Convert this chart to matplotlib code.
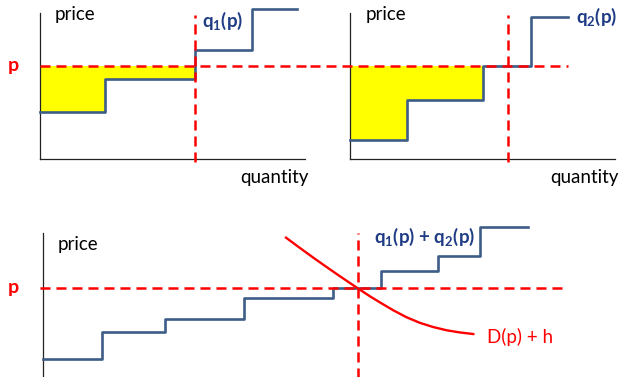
import matplotlib.pyplot as plt

plt.rcParams['font.family'] = ['Lato', 'DejaVu Sans']

# step supply curves (quantity, price)
q1_x = [0, 4.2, 10.0, 13.7, 16.6]
q1_y = [5.05, 8.6, 11.7, 16.1]
q2_x = [0, 3.7, 8.6, 11.7, 14.05]
q2_y = [2.05, 6.35, 10.0, 15.3]
qs_x = [0, 3.8, 7.9, 13.0, 18.7, 21.8, 25.5, 28.2, 31.3]
qs_y = [2.4, 5.3, 6.7, 8.9, 10.0, 11.8, 13.4, 16.6]

# demand curve D(p) + h
d_x = [15.68, 16.58, 17.44, 18.30, 19.16, 20.28, 21.10, 21.74, 22.60,
       23.46, 24.32, 25.18, 26.05, 26.90, 27.76]
d_y = [15.41, 14.30, 13.26, 12.25, 11.26, 10.0, 9.1, 8.45, 7.6,
       6.85, 6.25, 5.8, 5.45, 5.22, 5.05]

p_star = 10.0
q_star_1 = 10.0
q_star_2 = 10.2
q_star_3 = 20.3

W, H = 621, 377
PX_X, PX_Y = 15.5, 9.3   # pixels per unit
STEP_C = '#3D5C88'
TEXT_BLUE = '#1F3C85'
RED = '#FF0000'
DASH = (0, (4, 2.4))
FS = 13.5

fig = plt.figure(figsize=(W / 100, H / 100), dpi=100)


def panel(x0, y0, w, h):
    # x0, y0: pixel position of the origin (y from top)
    ax = fig.add_axes([x0 / W, (H - y0) / H, w / W, h / H])
    ax.set_xlim(0, w / PX_X)
    ax.set_ylim(0, h / PX_Y)
    ax.set_facecolor('none')
    ax.set_xticks([])
    ax.set_yticks([])
    for s in ['top', 'right']:
        ax.spines[s].set_visible(False)
    for s in ['left', 'bottom']:
        ax.spines[s].set_linewidth(0.9)
        ax.spines[s].set_color('#222222')
    return ax


def steps(xs, ys):
    px, py = [], []
    for i, y in enumerate(ys):
        px += [xs[i], xs[i + 1]]
        py += [y, y]
    return px, py


# ---- panel 1: q1(p)
ax1 = panel(40, 159, 265, 159)
ax1.spines['left'].set_bounds(0, 15.7)
sx, sy = steps(q1_x, q1_y)
ax1.fill_between(sx, sy, p_star, where=[x <= q_star_1 for x in sx],
                 color='#FFFF00', lw=0)
ax1.plot(sx, sy, color=STEP_C, lw=1.9, clip_on=False, zorder=3)
ax1.plot([0, 17.4], [p_star, p_star], color=RED, lw=1.8, ls=DASH,
         clip_on=False, zorder=4)
ax1.plot([q_star_1, q_star_1], [-0.3, 15.5], color=RED, lw=1.8, ls=DASH,
         clip_on=False, zorder=4)
ax1.text(2.26, 15.5, 'price', ha='center', va='center', fontsize=FS)
ax1.text(15.1, -1.94, 'quantity', ha='center', va='center', fontsize=FS)
ax1.text(11.8, 14.9, r'q$_\mathregular{1}$(p)', ha='center', va='center',
         fontsize=FS, color=TEXT_BLUE, fontweight='bold')

# ---- panel 2: q2(p)
ax2 = panel(350, 159, 265, 159)
ax2.spines['left'].set_bounds(0, 15.7)
sx, sy = steps(q2_x, q2_y)
ax2.fill_between(sx, sy, p_star, where=[x <= 8.6 for x in sx],
                 color='#FFFF00', lw=0)
ax2.plot(sx, sy, color=STEP_C, lw=1.9, clip_on=False, zorder=3)
ax2.plot([-2.6, 14.06], [p_star, p_star], color=RED, lw=1.8, ls=DASH,
         clip_on=False, zorder=4)
ax2.plot([q_star_2, q_star_2], [-0.3, 15.5], color=RED, lw=1.8, ls=DASH,
         clip_on=False, zorder=4)
ax2.text(2.3, 15.5, 'price', ha='center', va='center', fontsize=FS)
ax2.text(15.1, -1.94, 'quantity', ha='center', va='center', fontsize=FS)
ax2.text(15.9, 15.3, r'q$_\mathregular{2}$(p)', ha='center', va='center',
         fontsize=FS, color=TEXT_BLUE, fontweight='bold')

# ---- panel 3: q1(p) + q2(p) against D(p) + h
ax3 = panel(43, 381, 530, 161)
ax3.spines['bottom'].set_visible(False)
ax3.spines['left'].set_bounds(0, 15.9)
sx, sy = steps(qs_x, qs_y)
ax3.plot(sx, sy, color=STEP_C, lw=1.9, clip_on=False, zorder=3)
ax3.plot(d_x, d_y, color=RED, lw=1.7, clip_on=False, zorder=4,
         solid_joinstyle='round')
ax3.plot([-0.2, 33.8], [p_star, p_star], color=RED, lw=1.8, ls=DASH,
         clip_on=False, zorder=4)
ax3.plot([q_star_3, q_star_3], [0, 15.9], color=RED, lw=1.8, ls=DASH,
         clip_on=False, zorder=4)
ax3.text(2.26, 14.7, 'price', ha='center', va='center', fontsize=FS)
ax3.text(24.6, 15.5, r'q$_\mathregular{1}$(p) + q$_\mathregular{2}$(p)',
         ha='center', va='center', fontsize=FS, color=TEXT_BLUE,
         fontweight='bold')
ax3.text(30.8, 4.7, 'D(p) + h', ha='center', va='center', fontsize=FS,
         color=RED)

# price level labels
fig.text(13 / W, 1 - 66 / H, 'p', ha='center', va='center', fontsize=14,
         color=RED, fontweight='bold')
fig.text(13 / W, 1 - 288 / H, 'p', ha='center', va='center', fontsize=14,
         color=RED, fontweight='bold')

fig.savefig('out.png', dpi=100)
